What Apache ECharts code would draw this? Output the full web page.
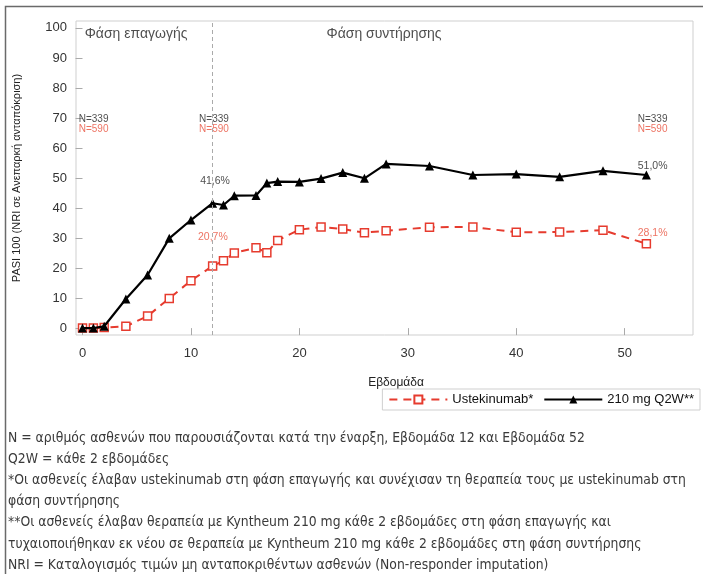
<!DOCTYPE html>
<html>
<head>
<meta charset="utf-8">
<script src="https://cdn.jsdelivr.net/npm/echarts@6/dist/echarts.min.js"></script>
<style>
html,body{margin:0;padding:0;background:#fff;}
#chart{width:703px;height:574px;}
</style>
</head>
<body>
<div id="chart"></div>
<script>
// ---- Data ----
var weeks = [0,1,2,4,6,8,10,12,13,14,16,17,18,20,22,24,26,28,32,36,40,44,48,52];
var q2wValues = [0,0,0.6,9.7,17.7,29.9,36,41.6,41,44.1,44.2,48.3,48.8,48.7,49.8,51.8,49.9,54.7,54,51,51.3,50.4,52.4,51.0];
var ustValues = [0,0,0.2,0.6,4,9.9,15.8,20.7,22.4,25,26.8,25.1,29.2,32.8,33.7,33,31.8,32.4,33.6,33.7,31.9,32,32.6,28.1];
var xTicks = [0,10,20,30,40,50];
var yTicks = [0,10,20,30,40,50,60,70,80,90,100];
var seriesNames = ['Ustekinumab*','210 mg Q2W**'];
var footnotes = [
  'N = αριθμός ασθενών που παρουσιάζονται κατά την έναρξη, Εβδομάδα 12 και Εβδομάδα 52',
  'Q2W = κάθε 2 εβδομάδες',
  '*Οι ασθενείς έλαβαν ustekinumab στη φάση επαγωγής και συνέχισαν τη θεραπεία τους με ustekinumab στη',
  'φάση συντήρησης',
  '**Οι ασθενείς έλαβαν θεραπεία με Kyntheum 210 mg κάθε 2 εβδομάδες στη φάση επαγωγής και',
  'τυχαιοποιήθηκαν εκ νέου σε θεραπεία με Kyntheum 210 mg κάθε 2 εβδομάδες στη φάση συντήρησης',
  'NRI = Καταλογισμός τιμών μη ανταποκριθέντων ασθενών (Non-responder imputation)'
];
// annotations: [week, value, text, color, size]
var annotations = [
  [0.2, 98, 'Φάση επαγωγής', '#222', 14],
  [22.5, 98, 'Φάση συντήρησης', '#222', 14],
  [-0.35, 69.7, 'N=339', '#222', 10],
  [-0.35, 66.3, 'N=590', '#e8503c', 10],
  [10.75, 69.7, 'N=339', '#222', 10],
  [10.75, 66.3, 'N=590', '#e8503c', 10],
  [51.2, 69.7, 'N=339', '#222', 10],
  [51.2, 66.3, 'N=590', '#e8503c', 10],
  [10.85, 49, '41,6%', '#222', 10.5],
  [10.65, 30.3, '20,7%', '#e8503c', 10.5],
  [51.2, 54, '51,0%', '#222', 10.5],
  [51.2, 31.7, '28,1%', '#e8503c', 10.5]
];

var RED = '#e63b2e';
var font = 'Arial, "Liberation Sans", sans-serif';

function pairs(xs, ys){ return xs.map(function(x,i){ return [x, ys[i]]; }); }

var chart = echarts.init(document.getElementById('chart'));

var graphics = [{
  type:'rect', shape:{x:5.5, y:6.5, width:720, height:620},
  style:{fill:'none', stroke:'#6a6a6a', lineWidth:1.5}, silent:true
}];
footnotes.forEach(function(t, i){
  graphics.push({
    type:'text', left:8, top:431 + i*21.2,
    style:{text:t, fill:'#3a3a3a', font:'13.8px "Liberation Sans Narrow", "DejaVu Sans Condensed", Arial, sans-serif'}
  });
});

chart.setOption({
  animation:false,
  backgroundColor:'#fff',
  grid:{left:76, top:21, right:10, bottom:239, show:true, borderColor:'#cfcfcf', borderWidth:1,
        containLabel:false, outerBoundsMode:'none'},
  xAxis:{
    type:'value', min:-0.6, max:56.3,
    name:'Εβδομάδα', nameLocation:'middle', nameGap:42, nameMoveOverlap:false,
    nameTextStyle:{color:'#222', fontSize:12, fontFamily:font, padding:[0,0,0,23]},
    axisLine:{show:false},
    axisTick:{show:true, length:7, lineStyle:{color:'#aaa'}, customValues:xTicks},
    axisLabel:{color:'#333', fontSize:13, fontFamily:font, margin:12, customValues:xTicks},
    splitLine:{show:false}
  },
  yAxis:{
    type:'value', min:-2.3, max:102.3,
    name:'PASI 100 (NRI σε Ανεπαρκή ανταπόκριση)', nameLocation:'middle', nameGap:54, nameMoveOverlap:false,
    nameTextStyle:{color:'#222', fontSize:11, fontFamily:font},
    axisLine:{show:false},
    axisTick:{show:true, length:7, lineStyle:{color:'#aaa'}, customValues:yTicks},
    axisLabel:{color:'#333', fontSize:13, fontFamily:font, margin:9, customValues:yTicks},
    splitLine:{show:false}
  },
  legend:{
    data:seriesNames, right:3, top:389, itemWidth:58, itemHeight:10, itemGap:10,
    padding:[4,6,4,6], borderColor:'#cfcfcf', borderWidth:1,
    textStyle:{color:'#111', fontSize:13, fontFamily:font}
  },
  series:[
    {
      name:seriesNames[0], type:'line', data:pairs(weeks, ustValues), clip:false,
      symbol:'rect', symbolSize:8,
      lineStyle:{color:RED, width:2, type:[8,6]},
      itemStyle:{color:'#fff', borderColor:RED, borderWidth:1.5},
      z:3,
      markLine:{
        silent:true, symbol:['none','none'], label:{show:false},
        lineStyle:{color:'#aaa', type:[4,3], width:1},
        data:[{xAxis:12}]
      }
    },
    {
      name:seriesNames[1], type:'line', data:pairs(weeks, q2wValues), clip:false,
      symbol:'triangle', symbolSize:9,
      lineStyle:{color:'#000', width:2.2},
      itemStyle:{color:'#000'},
      z:4
    },
    {
      name:'annot', type:'scatter', symbolSize:0, silent:true, clip:false,
      data:annotations.map(function(a){
        return {value:[a[0], a[1]], label:{show:true, position:'right', distance:0, formatter:a[2], color:a[3], fontSize:a[4], fontFamily:font}};
      })
    }
  ],
  graphic:graphics
});
</script>
</body>
</html>
